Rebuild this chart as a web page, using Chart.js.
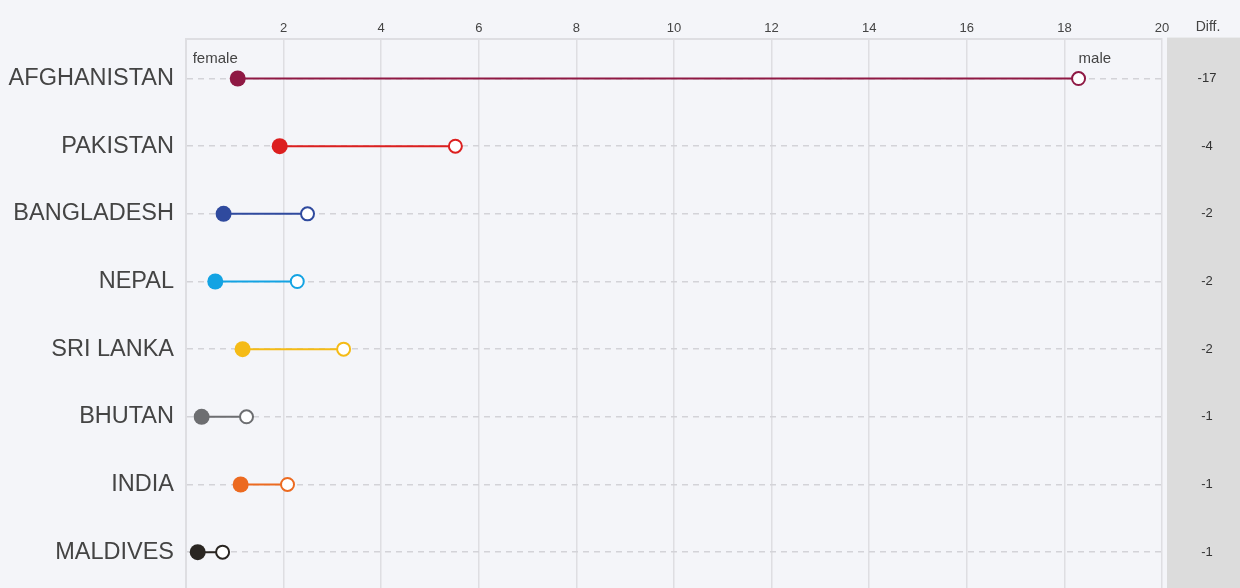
<!DOCTYPE html>
<html>
<head>
<meta charset="utf-8">
<script src="https://cdn.jsdelivr.net/npm/chart.js@4"></script>
<style>
    body { margin: 0; background: #f4f5f9; }
    #wrap { width: 1240px; height: 588px; }
</style>
</head>
<body>
<div id="wrap"><canvas id="gapChart"></canvas></div>
<script>
const countries = ['AFGHANISTAN', 'PAKISTAN', 'BANGLADESH', 'NEPAL', 'SRI LANKA', 'BHUTAN', 'INDIA', 'MALDIVES'];
const femaleValues = [1.06, 1.92, 0.77, 0.60, 1.16, 0.32, 1.12, 0.24];
const maleValues = [18.29, 5.52, 2.49, 2.28, 3.23, 1.24, 2.08, 0.75];
const colors = ['#8f1944', '#dc1f1f', '#2f4a9e', '#13a3e3', '#f5bb16', '#6d6e71', '#ec6a20', '#2a2622'];

const textColor = '#444';
const gridColor = '#dedee2';
const fontFamily = '"Liberation Sans", Arial, sans-serif';

// One line per country: filled dot = female, open dot = male
const datasets = countries.map((c, i) => ({
    label: c,
    data: [{ x: femaleValues[i], y: i }, { x: maleValues[i], y: i }],
    borderColor: colors[i],
    borderWidth: 2,
    pointBackgroundColor: [colors[i], '#fff'],
    pointBorderColor: colors[i],
    pointBorderWidth: [0, 2],
    pointRadius: [8, 6.5],
    pointHoverRadius: [8, 6.5]
}));

// Grey "Diff." column on the right plus female/male captions
const diffColumn = {
    id: 'diffColumn',
    beforeDraw(chart) {
        const { ctx, chartArea, width, height } = chart;
        ctx.save();
        ctx.fillStyle = '#dcdcdc';
        ctx.fillRect(chartArea.right + 5, chartArea.top - 1, width - chartArea.right - 5, height);
        ctx.restore();
    },
    afterDraw(chart) {
        const { ctx, scales } = chart;
        const xs = scales.x, ys = scales.y;
        ctx.save();
        ctx.font = '14px ' + fontFamily;
        ctx.fillStyle = textColor;
        ctx.textAlign = 'center';
        ctx.textBaseline = 'middle';
        ctx.fillText('Diff.', 1208, 27);
        ctx.font = '13px ' + fontFamily;
        ctx.fillStyle = '#333';
        countries.forEach((c, i) => {
            const diff = Math.round(femaleValues[i] - maleValues[i]);
            ctx.fillText(String(diff), 1207, ys.getPixelForValue(i));
        });
        // captions above the first row
        const y0 = ys.getPixelForValue(0) - 20;
        ctx.font = '15px ' + fontFamily;
        ctx.fillStyle = textColor;
        ctx.textAlign = 'right';
        ctx.fillText('female', xs.getPixelForValue(femaleValues[0]), y0);
        ctx.textAlign = 'left';
        ctx.fillText('male', xs.getPixelForValue(maleValues[0]), y0);
        ctx.restore();
    }
};

new Chart(document.getElementById('gapChart'), {
    type: 'line',
    data: { datasets },
    plugins: [diffColumn],
    options: {
        responsive: true,
        maintainAspectRatio: false,
        animation: false,
        events: [],
        layout: { autoPadding: false, padding: { top: 19, right: 78, bottom: 0, left: 0 } },
        plugins: {
            legend: { display: false },
            tooltip: { enabled: false }
        },
        scales: {
            x: {
                type: 'linear',
                position: 'top',
                min: 0,
                max: 20,
                afterFit: s => { s.paddingLeft = 0; s.paddingRight = 0; },
                grid: { color: gridColor, lineWidth: 1.5, drawTicks: false },
                border: { color: gridColor, width: 2 },
                ticks: {
                    stepSize: 2,
                    padding: 2,
                    color: textColor,
                    font: { family: fontFamily, size: 13 },
                    callback: v => (v === 0 ? '' : v)
                }
            },
            y: {
                type: 'linear',
                reverse: true,
                min: -0.59,
                max: 7.53,
                afterFit: s => { s.width = 186; s.paddingTop = 0; s.paddingBottom = 0; },
                afterBuildTicks: s => { s.ticks = countries.map((c, i) => ({ value: i })); },
                grid: { color: '#d3d3d8', lineWidth: 1.5, drawTicks: false },
                border: { color: gridColor, width: 2, dash: [6, 5] },
                ticks: {
                    padding: 12,
                    color: textColor,
                    font: { family: fontFamily, size: 23.5 },
                    callback: v => countries[v]
                }
            }
        }
    }
});
</script>
</body>
</html>
